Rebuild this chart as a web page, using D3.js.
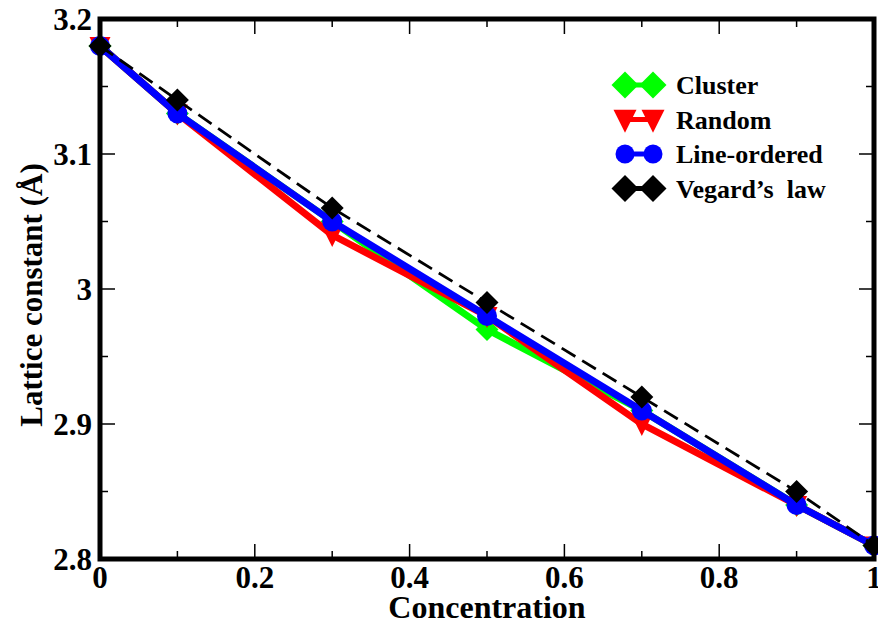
<!DOCTYPE html>
<html>
<head>
	<script src="https://cdn.jsdelivr.net/npm/d3@7/dist/d3.min.js"></script>
	<style>
		body { margin: 0; background: #fff; }
		svg { font-family: "Liberation Serif", "Times New Roman", serif; font-weight: bold; }
	</style>
</head>
<body>
	<div id="chart"></div>
	<script>
		// concentrations and lattice constants (Angstrom)
		var conc = [0, 0.1, 0.3, 0.5, 0.7, 0.9, 1.0];
		var cluster = [3.18, 3.13, 3.05, 2.97, 2.91, 2.84, 2.81];
		var random = [3.18, 3.13, 3.04, 2.98, 2.90, 2.84, 2.81];
		var lineOrdered = [3.18, 3.13, 3.05, 2.98, 2.91, 2.84, 2.81];
		var vegard = [3.18, 3.14, 3.06, 2.99, 2.92, 2.85, 2.81];

		var xTicks = [0, 0.2, 0.4, 0.6, 0.8, 1];
		var xMinor = [0.1, 0.3, 0.5, 0.7, 0.9];
		var yTicks = [2.8, 2.9, 3, 3.1, 3.2];
		var yMinor = [2.85, 2.95, 3.05, 3.15];

		var series = [
			{ name: "Cluster", values: cluster, color: "#00ff00", shape: "diamond", dash: null, width: 7 },
			{ name: "Random", values: random, color: "#ff0000", shape: "triangle", dash: null, width: 7 },
			{ name: "Line-ordered", values: lineOrdered, color: "#0000ff", shape: "circle", dash: null, width: 7 },
			{ name: "Vegard\u2019s  law", values: vegard, color: "#000000", shape: "diamond", dash: "16,8", width: 2.8 }
		];

		var width = 878, height = 628;
		var pLeft = 100, pRight = 874, pTop = 19, pBottom = 559;

		var x = d3.scaleLinear().domain([0, 1]).range([pLeft, pRight]);
		var y = d3.scaleLinear().domain([2.8, 3.2]).range([pBottom, pTop]);

		var svg = d3.select("#chart").append("svg")
			.attr("width", width)
			.attr("height", height);

		// marker shapes
		function marker(shape, s) {
			if (shape == "diamond") return "M0," + (-s) + "L" + s + ",0L0," + s + "L" + (-s) + ",0Z";
			if (shape == "triangle") return "M" + (-s) + "," + (-s * 0.85) + "L" + s + "," + (-s * 0.85) + "L0," + (s * 1.15) + "Z";
			return "M" + s + ",0A" + s + "," + s + " 0 1,1 " + (-s) + ",0A" + s + "," + s + " 0 1,1 " + s + ",0Z";
		}
		var markerSize = { diamond: 11.5, triangle: 10.5, circle: 10 };
		var legendSize = { diamond: 13.5, triangle: 11.5, circle: 9.5 };

		var line = d3.line()
			.x(function (d, i) { return x(conc[i]); })
			.y(function (d) { return y(d); });

		series.forEach(function (s) {
			svg.append("path")
				.attr("d", line(s.values))
				.attr("fill", "none")
				.attr("stroke", s.color)
				.attr("stroke-width", s.width)
				.attr("stroke-linejoin", "round")
				.attr("stroke-dasharray", s.dash);

			svg.selectAll(null)
				.data(s.values)
				.enter().append("path")
				.attr("d", marker(s.shape, markerSize[s.shape]))
				.attr("transform", function (d, i) { return "translate(" + x(conc[i]) + "," + y(d) + ")"; })
				.attr("fill", s.color);
		});

		// ticks on all four sides, pointing in
		var tk = svg.append("g").attr("stroke", "#000").attr("stroke-width", 1.5);
		function vTicks(vals, len) {
			vals.forEach(function (v) {
				tk.append("line").attr("x1", x(v)).attr("x2", x(v)).attr("y1", pBottom).attr("y2", pBottom - len);
				tk.append("line").attr("x1", x(v)).attr("x2", x(v)).attr("y1", pTop).attr("y2", pTop + len);
			});
		}
		function hTicks(vals, len) {
			vals.forEach(function (v) {
				tk.append("line").attr("y1", y(v)).attr("y2", y(v)).attr("x1", pLeft).attr("x2", pLeft + len);
				tk.append("line").attr("y1", y(v)).attr("y2", y(v)).attr("x1", pRight).attr("x2", pRight - len);
			});
		}
		vTicks(xTicks, 15);
		vTicks(xMinor, 8);
		hTicks(yTicks, 15);
		hTicks(yMinor, 8);

		// frame
		svg.append("rect")
			.attr("x", pLeft)
			.attr("y", pTop)
			.attr("width", pRight - pLeft)
			.attr("height", pBottom - pTop)
			.attr("fill", "none")
			.attr("stroke", "#000")
			.attr("stroke-width", 5);

		// tick labels
		svg.selectAll(".xl")
			.data(xTicks)
			.enter().append("text")
			.attr("x", function (d) { return x(d); })
			.attr("y", 588)
			.attr("text-anchor", "middle")
			.style("font-size", "31px")
			.text(function (d) { return d; });

		svg.selectAll(".yl")
			.data(yTicks)
			.enter().append("text")
			.attr("x", 92)
			.attr("y", function (d) { return y(d); })
			.attr("dy", "0.35em")
			.attr("text-anchor", "end")
			.style("font-size", "31px")
			.text(function (d) { return d; });

		// axis titles
		svg.append("text")
			.attr("x", 487)
			.attr("y", 618)
			.attr("text-anchor", "middle")
			.style("font-size", "32px")
			.text("Concentration");

		svg.append("text")
			.attr("transform", "translate(42," + 295 + ") rotate(-90)")
			.attr("text-anchor", "middle")
			.style("font-size", "31px")
			.text("Lattice constant (\u00c5)");

		// legend
		var lg = svg.append("g");
		series.forEach(function (s, i) {
			var ly = 85 + i * 34.5;
			lg.append("line")
				.attr("x1", 625).attr("x2", 653)
				.attr("y1", ly).attr("y2", ly)
				.attr("stroke", s.color)
				.attr("stroke-width", 5);
			[625, 653].forEach(function (mx) {
				lg.append("path")
					.attr("d", marker(s.shape, legendSize[s.shape]))
					.attr("transform", "translate(" + mx + "," + ly + ")")
					.attr("fill", s.color);
			});
			lg.append("text")
				.attr("x", 676)
				.attr("y", ly)
				.attr("dy", "0.35em")
				.style("font-size", "26px")
				.style("white-space", "pre")
				.text(s.name);
		});
	</script>
</body>
</html>
